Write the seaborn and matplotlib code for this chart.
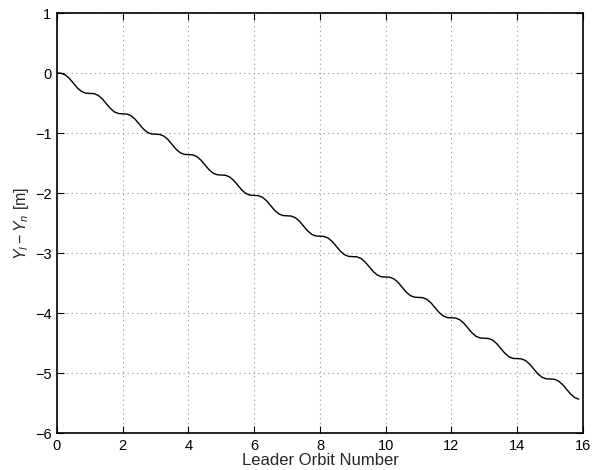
import numpy as np
import pandas as pd
import matplotlib
matplotlib.use("Agg")
import matplotlib.pyplot as plt
import seaborn as sns

# Leader orbit number, sampled every 1/8 orbit
orbit = np.arange(0, 16, 0.125)

# Y_l - Y_n [m], one row per orbit
offset_by_orbit = [
    [0.000, -0.004, -0.031, -0.089, -0.170, -0.251, -0.309, -0.336],
    [-0.340, -0.344, -0.371, -0.429, -0.510, -0.591, -0.649, -0.676],
    [-0.680, -0.684, -0.711, -0.769, -0.850, -0.931, -0.989, -1.016],
    [-1.020, -1.024, -1.051, -1.109, -1.190, -1.271, -1.329, -1.356],
    [-1.360, -1.364, -1.391, -1.449, -1.530, -1.611, -1.669, -1.696],
    [-1.700, -1.704, -1.731, -1.789, -1.870, -1.951, -2.009, -2.036],
    [-2.040, -2.044, -2.071, -2.129, -2.210, -2.291, -2.349, -2.376],
    [-2.380, -2.384, -2.411, -2.469, -2.550, -2.631, -2.689, -2.716],
    [-2.720, -2.724, -2.751, -2.809, -2.890, -2.971, -3.029, -3.056],
    [-3.060, -3.064, -3.091, -3.149, -3.230, -3.311, -3.369, -3.396],
    [-3.400, -3.404, -3.431, -3.489, -3.570, -3.651, -3.709, -3.736],
    [-3.740, -3.744, -3.771, -3.829, -3.910, -3.991, -4.049, -4.076],
    [-4.080, -4.084, -4.111, -4.169, -4.250, -4.331, -4.389, -4.416],
    [-4.420, -4.424, -4.451, -4.509, -4.590, -4.671, -4.729, -4.756],
    [-4.760, -4.764, -4.791, -4.849, -4.930, -5.011, -5.069, -5.096],
    [-5.100, -5.104, -5.131, -5.189, -5.270, -5.351, -5.409, -5.436],
]

x_ticks = [0, 2, 4, 6, 8, 10, 12, 14, 16]
y_ticks = [1, 0, -1, -2, -3, -4, -5, -6]

df = pd.DataFrame({"orbit": orbit, "offset": np.concatenate(offset_by_orbit)})

sns.set_style("ticks")
plt.rcParams["font.family"] = ["Liberation Sans", "DejaVu Sans"]
plt.rcParams["mathtext.fontset"] = "custom"
plt.rcParams["mathtext.rm"] = "Liberation Sans"
plt.rcParams["mathtext.it"] = "Liberation Sans:italic"

fig = plt.figure(figsize=(5.93, 4.70), dpi=100)
ax = fig.add_axes([0.0961, 0.0787, 0.8869, 0.8936])

sns.lineplot(data=df, x="orbit", y="offset", color="black", linewidth=1.0, ax=ax)

ax.set_xlim(0, 16)
ax.set_ylim(-6, 1)
ax.set_xticks(x_ticks)
ax.set_yticks(y_ticks)
ax.grid(True, linestyle=(0, (1.2, 3)), color="#a0a0a0", linewidth=0.8)
ax.tick_params(direction="in", length=5, width=0.8, top=True, right=True,
               labelsize=10.5, colors="black", pad=4)
for s in ax.spines.values():
    s.set_linewidth(1.2)
    s.set_color("black")

ax.set_xlabel("Leader Orbit Number", fontsize=12, labelpad=0)
ax.set_ylabel(r"$Y_l - Y_n$ [m]", fontsize=11.5, labelpad=3)

fig.savefig("out.png", dpi=100)
